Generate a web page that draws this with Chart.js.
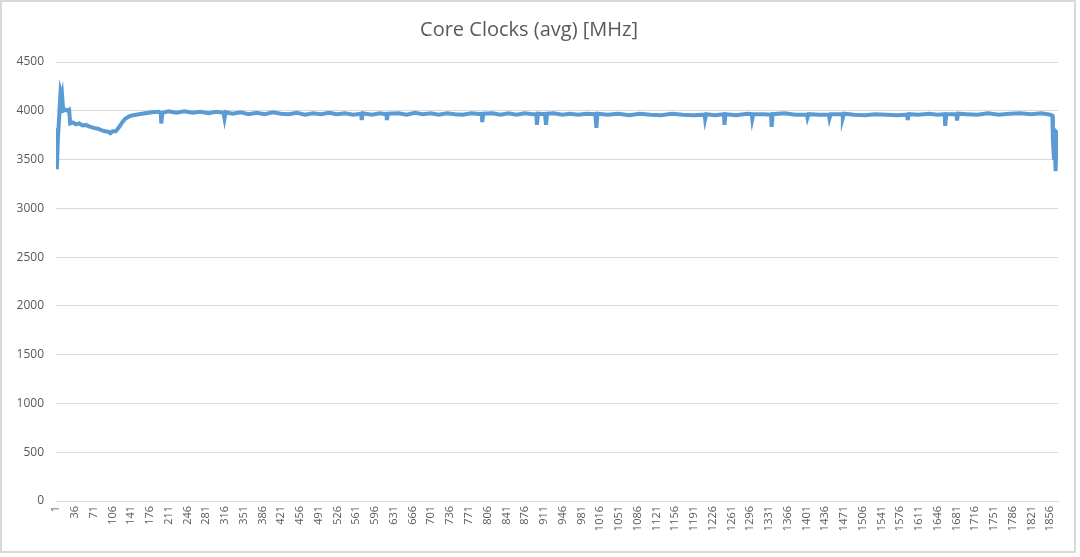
<!DOCTYPE html>
<html>
<head>
<meta charset="utf-8">
<script src="https://cdn.jsdelivr.net/npm/chart.js@4/dist/chart.umd.min.js"></script>
<style>
  html, body { margin: 0; padding: 0; background: #fff; }
  #wrap { position: absolute; left: 0; top: 0; width: 1080px; height: 557px; }
  #frame { position: absolute; left: 0; top: 0; width: 1072px; height: 549px;
           border: 2px solid #d9d9d9; pointer-events: none; }
</style>
</head>
<body>
<div id="wrap"><canvas id="myChart" width="1080" height="557"></canvas></div>
<div id="frame"></div>
<script>
// sample index (x) and core clock reading (MHz)
const sampleX = [
  1, 2, 4, 6, 9, 10, 11, 12, 14, 18, 22, 25, 27, 32, 38, 44, 50, 56, 62, 68, 74, 80, 86, 92, 98, 102, 106, 112,
  118, 124, 130, 138, 145, 155, 167, 180, 192, 196, 197, 199, 210, 225, 240, 255, 270, 285, 300, 313, 315, 317,
  330, 345, 360, 375, 390, 405, 420, 435, 450, 465, 480, 495, 510, 525, 540, 555, 570, 571, 573, 590, 605, 617,
  618, 620, 640, 655, 670, 685, 700, 715, 730, 745, 760, 775, 795, 796, 798, 815, 830, 845, 860, 875, 890, 897,
  898, 900, 913, 915, 917, 930, 945, 960, 975, 990, 1007, 1009, 1011, 1030, 1050, 1070, 1090, 1110, 1130, 1150,
  1170, 1190, 1211, 1212, 1214, 1230, 1247, 1248, 1250, 1270, 1290, 1299, 1300, 1302, 1320, 1335, 1336, 1338,
  1360, 1380, 1402, 1403, 1405, 1425, 1443, 1444, 1446, 1468, 1469, 1471, 1490, 1510, 1530, 1550, 1570, 1589,
  1590, 1592, 1610, 1630, 1645, 1659, 1660, 1662, 1681, 1682, 1684, 1700, 1720, 1740, 1760, 1780, 1800, 1820,
  1840, 1856, 1860, 1861, 1863, 1864, 1866, 1868, 1870
];
const coreClock = [
  3820, 3400, 3700, 3900, 4200, 4180, 4120, 4150, 4000, 4010, 4000, 4010, 3870, 3880, 3860, 3870, 3850, 3855, 3840, 3830, 3820, 3815, 3800, 3790, 3785, 3770, 3790, 3790,
  3830, 3880, 3920, 3945, 3955, 3965, 3975, 3985, 3990, 3975, 3870, 3980, 3995, 3980, 3995, 3980, 3990, 3975, 3990, 3980, 3920, 3985,
  3970, 3985, 3965, 3980, 3965, 3985, 3970, 3965, 3980, 3960, 3975, 3965, 3980, 3965, 3975, 3960, 3970, 3905, 3975, 3960, 3975, 3965,
  3905, 3970, 3975, 3960, 3980, 3965, 3975, 3960, 3975, 3965, 3960, 3975, 3965, 3885, 3970, 3975, 3960, 3975, 3960, 3975, 3965, 3965,
  3855, 3970, 3965, 3855, 3970, 3975, 3960, 3970, 3960, 3970, 3965, 3825, 3970, 3960, 3970, 3955, 3970, 3960, 3955, 3970,
  3960, 3955, 3960, 3915, 3965, 3955, 3965, 3855, 3965, 3955, 3970, 3965, 3915, 3965, 3965, 3960, 3835, 3965,
  3975, 3960, 3960, 3930, 3965, 3960, 3960, 3925, 3965, 3965, 3930, 3970, 3960, 3955, 3965, 3960, 3955, 3960,
  3905, 3965, 3960, 3970, 3960, 3965, 3845, 3965, 3965, 3900, 3970, 3965, 3960, 3975, 3960, 3970, 3975, 3965,
  3975, 3960, 3950, 3700, 3500, 3780, 3380, 3780, 3770
];
// x-axis tick labels shown under the chart
const tickLabels = [
  1, 36, 71, 106, 141, 176, 211, 246, 281, 316, 351, 386, 421, 456, 491, 526, 561, 596, 631, 666, 701, 736, 771,
  806, 841, 876, 911, 946, 981, 1016, 1051, 1086, 1121, 1156, 1191, 1226, 1261, 1296, 1331, 1366, 1401, 1436,
  1471, 1506, 1541, 1576, 1611, 1646, 1681, 1716, 1751, 1786, 1821, 1856
];
const yTicks = [0, 500, 1000, 1500, 2000, 2500, 3000, 3500, 4000, 4500];

const points = sampleX.map((x, i) => ({ x: x, y: coreClock[i] }));
const gray = '#595959';

const ctx = document.getElementById('myChart').getContext('2d');
const myChart = new Chart(ctx, {
  type: 'line',
  data: {
    datasets: [{
      data: points,
      borderColor: '#5b9bd5',
      borderWidth: 4,
      pointRadius: 0,
      tension: 0,
      fill: false
    }]
  },
  options: {
    responsive: false,
    animation: false,
    layout: { padding: { left: 0, right: 22, top: 0, bottom: 0 } },
    plugins: {
      legend: { display: false },
      tooltip: { enabled: false },
      title: {
        display: true,
        text: 'Core Clocks (avg) [MHz]',
        color: gray,
        font: { family: 'Open Sans', size: 20, weight: 'normal' },
        padding: { top: 18, bottom: 20 }
      }
    },
    scales: {
      x: {
        type: 'linear',
        min: 0.5,
        max: 1870.5,
        afterBuildTicks: (scale) => { scale.ticks = tickLabels.map(v => ({ value: v })); },
        afterFit: (scale) => { scale.height = 56; },
        grid: { display: false, drawTicks: false },
        border: { display: true, color: '#d9d9d9', width: 1 },
        ticks: {
          autoSkip: false,
          minRotation: 90,
          maxRotation: 90,
          padding: 5,
          color: gray,
          font: { family: 'Open Sans', size: 11 },
          callback: (v) => String(v)
        }
      },
      y: {
        min: 0,
        max: 4500,
        afterBuildTicks: (scale) => { scale.ticks = yTicks.map(v => ({ value: v })); },
        afterFit: (scale) => { scale.width = 56; },
        grid: { color: '#d9d9d9', lineWidth: 1, drawTicks: false },
        border: { display: false },
        ticks: {
          padding: 12,
          color: gray,
          font: { family: 'Open Sans', size: 12 },
          callback: (v) => String(v)
        }
      }
    }
  }
});
</script>
</body>
</html>
